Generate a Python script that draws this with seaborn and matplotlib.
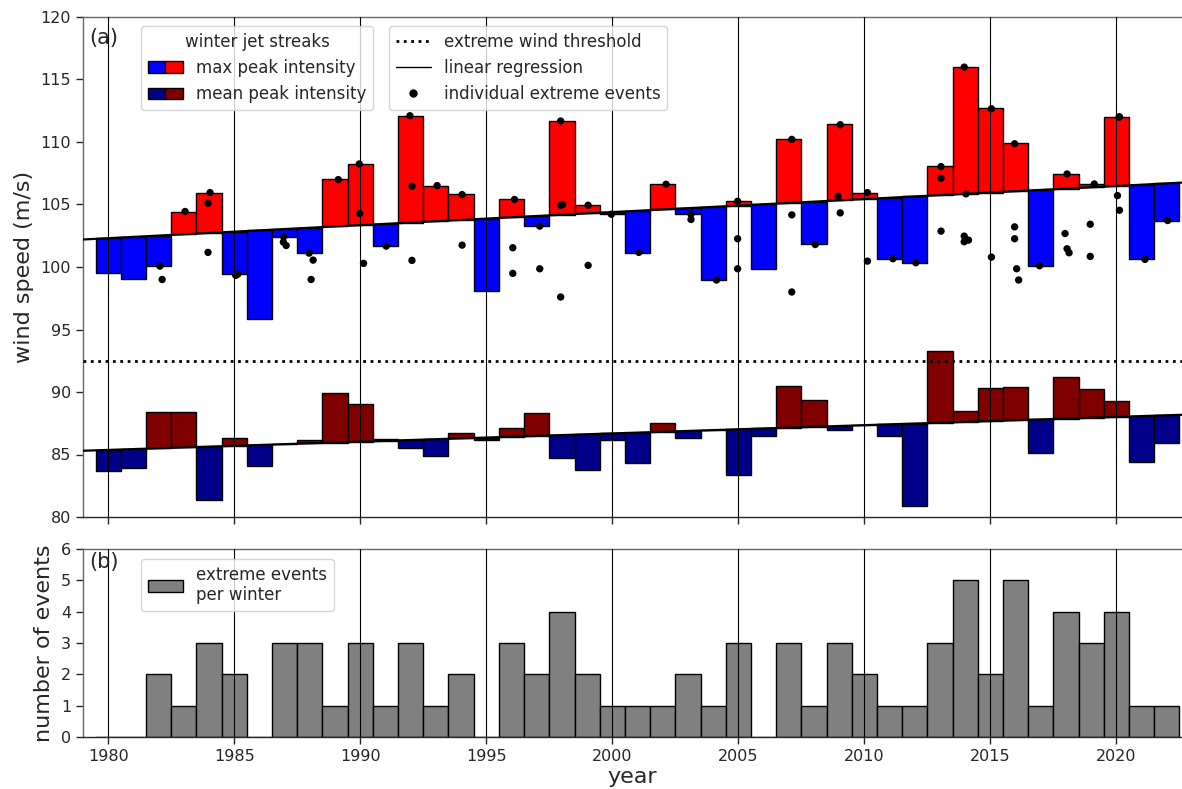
import numpy as np
import matplotlib
matplotlib.use("Agg")
import matplotlib.pyplot as plt
import seaborn as sns
from matplotlib.patches import Patch
from matplotlib.lines import Line2D
from matplotlib.legend_handler import HandlerTuple

# -------------------------------
# data
# -------------------------------
years = np.arange(1980, 2023)

max_peak = [99.5, 99.0, 100.05, 104.4, 105.95, 99.45, 95.85, 102.4, 101.1, 107.0,
            108.25, 101.65, 112.1, 106.5, 105.8, 98.1, 105.4, 103.25, 111.7, 104.95,
            104.25, 101.15, 106.6, 104.2, 98.95, 105.25, 99.85, 110.2, 101.8, 111.4,
            105.95, 100.65, 100.35, 108.05, 116.0, 112.7, 109.9, 100.1, 107.45, 106.6,
            112.0, 100.6, 103.7]

mean_peak = [83.65, 83.9, 88.4, 88.4, 81.35, 86.35, 84.05, 85.85, 86.15, 89.95,
             89.0, 86.2, 85.5, 84.9, 86.7, 86.15, 87.1, 88.35, 84.7, 83.75,
             86.15, 84.3, 87.5, 86.35, 86.95, 83.35, 86.45, 90.5, 89.35, 86.95,
             87.35, 86.45, 80.9, 93.3, 88.5, 90.3, 90.4, 85.1, 91.2, 90.2,
             89.3, 84.4, 85.9]

events_per_winter = [0, 0, 2, 1, 3, 2, 0, 3, 3, 1,
                     3, 1, 3, 1, 2, 0, 3, 2, 4, 2,
                     1, 1, 1, 2, 1, 3, 0, 3, 1, 3,
                     2, 1, 1, 3, 5, 2, 5, 1, 4, 3,
                     4, 1, 1]

# individual extreme events (time in years, wind speed)
event_time = [1982.05, 1982.14, 1983.05, 1984.04, 1983.96, 1983.96, 1985.06, 1985.14,
              1986.96, 1986.95, 1987.06, 1987.97, 1988.13, 1988.05, 1989.13,
              1989.96, 1989.98, 1990.13, 1991.03, 1991.97, 1992.05, 1992.05,
              1993.05, 1994.04, 1994.04, 1996.12, 1996.05, 1996.05, 1997.12, 1997.12,
              1997.95, 1997.95, 1998.03, 1997.95, 1999.04, 1999.04, 1999.96,
              2001.05, 2002.13, 2003.12, 2003.12, 2004.13, 2004.97, 2004.97, 2004.97,
              2007.12, 2007.12, 2007.12, 2008.05, 2009.04, 2008.96, 2009.04,
              2010.12, 2010.12, 2011.13, 2012.04, 2013.04, 2013.04, 2013.04,
              2013.96, 2014.03, 2013.96, 2013.96, 2014.13, 2015.04, 2015.04,
              2015.96, 2015.96, 2015.96, 2016.04, 2016.12, 2016.95,
              2018.04, 2017.96, 2018.04, 2018.12, 2019.12, 2018.96, 2018.96,
              2020.12, 2020.04, 2020.12, 2020.10, 2021.13, 2022.03]
event_speed = [100.07, 99.0, 104.44, 105.95, 105.1, 101.17, 99.33, 99.43,
               102.42, 101.99, 101.72, 101.11, 100.55, 99.0, 106.99,
               108.24, 104.28, 100.29, 101.67, 112.1, 106.46, 100.53,
               106.51, 105.79, 101.75, 105.4, 101.54, 99.49, 103.27, 99.86,
               111.68, 104.94, 105.0, 97.6, 104.94, 100.13, 104.22,
               101.17, 106.62, 104.22, 103.8, 98.96, 105.26, 102.26, 99.86,
               110.21, 104.17, 98.0, 101.8, 111.38, 105.66, 104.33,
               105.95, 100.47, 100.66, 100.34, 108.03, 107.1, 102.87,
               115.99, 105.85, 102.47, 102.02, 102.15, 112.66, 100.79,
               109.86, 103.21, 102.26, 99.86, 98.96, 100.1,
               107.44, 102.68, 101.46, 101.14, 106.64, 103.42, 100.85,
               112.02, 105.71, 104.54, 111.98, 100.61, 103.72]

# linear regression lines (value at 1979, slope per year)
trend_max = (102.2, 0.1044)
trend_mean = (85.3, 0.066)
threshold = 92.5

# -------------------------------
# style
# -------------------------------
sns.set_style("ticks")
plt.rcParams['font.family'] = ['DejaVu Sans']
plt.rcParams['axes.linewidth'] = 1.0

x0, x1 = 1979, 2022.6
W, H = 1182, 789
fig = plt.figure(figsize=(W / 100, H / 100), dpi=100)
ax1 = fig.add_axes([83 / W, 1 - 517 / H, 1 - 83 / W, 500 / H])
ax2 = fig.add_axes([83 / W, 1 - 737 / H, 1 - 83 / W, 188 / H])

# -------------------------------
# (a) peak intensity anomalies around the trend
# -------------------------------
xl = np.array([x0, x1])
base_max = trend_max[0] + trend_max[1] * (years - x0)
base_mean = trend_mean[0] + trend_mean[1] * (years - x0)
d_max = np.array(max_peak) - base_max
d_mean = np.array(mean_peak) - base_mean

ax1.bar(years, d_max, bottom=base_max, width=1,
        color=np.where(d_max > 0, 'red', 'blue'), edgecolor='black', linewidth=1, zorder=2)
ax1.bar(years, d_mean, bottom=base_mean, width=1,
        color=np.where(d_mean > 0, 'maroon', 'darkblue'), edgecolor='black', linewidth=1, zorder=2)

for yr in range(1980, 2021, 5):
    ax1.axvline(yr, color='black', lw=0.8, zorder=3)
    ax2.axvline(yr, color='black', lw=0.8, zorder=3)

ax1.plot(xl, trend_max[0] + trend_max[1] * (xl - x0), color='black', lw=1.6, zorder=4)
ax1.plot(xl, trend_mean[0] + trend_mean[1] * (xl - x0), color='black', lw=1.6, zorder=4)
ax1.axhline(threshold, color='black', ls=':', lw=2, zorder=4)
sns.scatterplot(x=event_time, y=event_speed, color='black', s=28, edgecolor='none',
                zorder=5, ax=ax1)

ax1.set_xlim(x0, x1)
ax1.set_ylim(80, 120)
ax1.set_yticks(range(80, 121, 5))
ax1.set_xticks(range(1980, 2021, 5))
ax1.set_xticklabels([])
ax1.set_ylabel('wind speed (m/s)', fontsize=16, labelpad=5)
ax1.text(0.006, 0.978, '(a)', transform=ax1.transAxes, va='top', ha='left', fontsize=15)

h1 = [(Patch(facecolor='blue', edgecolor='black'), Patch(facecolor='red', edgecolor='black')),
      (Patch(facecolor='darkblue', edgecolor='black'), Patch(facecolor='maroon', edgecolor='black'))]
leg1 = ax1.legend(h1, ['max peak intensity', 'mean peak intensity'],
                  title='winter jet streaks', title_fontsize=12, fontsize=12,
                  handler_map={tuple: HandlerTuple(ndivide=None, pad=0)},
                  handlelength=2.1, loc='upper left', bbox_to_anchor=(0.0528, 0.982),
                  borderaxespad=0)
ax1.add_artist(leg1)
h2 = [Line2D([], [], color='black', ls=':', lw=2),
      Line2D([], [], color='black', lw=1),
      Line2D([], [], color='black', marker='o', ms=5, ls='none')]
ax1.legend(h2, ['extreme wind threshold', 'linear regression', 'individual extreme events'],
           fontsize=12, handlelength=2.1, loc='upper left', bbox_to_anchor=(0.2784, 0.982),
           borderaxespad=0)

# -------------------------------
# (b) number of extreme events per winter
# -------------------------------
sns.barplot(x=years, y=events_per_winter, native_scale=True, width=1, color='gray',
            saturation=1, edgecolor='black', linewidth=1, errorbar=None, zorder=2, ax=ax2)
ax2.set_xlim(x0, x1)
ax2.set_ylim(0, 6)
ax2.set_yticks(range(0, 7))
ax2.set_xticks(range(1980, 2021, 5))
ax2.set_xticklabels([str(v) for v in range(1980, 2021, 5)])
ax2.set_xlabel('year', fontsize=16, labelpad=2)
ax2.set_ylabel('number of events', fontsize=16, labelpad=5)
ax2.text(0.006, 0.984, '(b)', transform=ax2.transAxes, va='top', ha='left', fontsize=15)
ax2.legend([Patch(facecolor='gray', edgecolor='black')], ['extreme events\nper winter'],
           fontsize=12, handlelength=2.1, loc='upper left', bbox_to_anchor=(0.0528, 0.947),
           borderaxespad=0)

for ax in (ax1, ax2):
    ax.spines['right'].set_visible(False)
    ax.spines['top'].set_color('0.4')
    ax.spines['left'].set_color('0.4')
    ax.tick_params(labelsize=11.5, length=5, width=1, direction='out')

fig.savefig('out.png', dpi=100)
